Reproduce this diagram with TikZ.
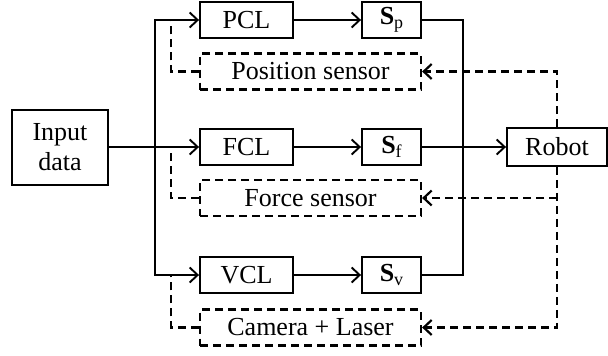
\documentclass[tikz,border=0pt]{standalone}
\usepackage{fontspec}
\setmainfont{Liberation Serif}
\usepackage{tikz}
\usetikzlibrary{positioning, arrows.meta, calc}
\newcommand{\sig}[1]{\textbf{S}\raisebox{-4pt}{\fontsize{18}{20}\selectfont #1}}
\tikzset{
  block/.style={
    draw, line width=1.9pt, minimum height=36pt, inner sep=2pt,
    font=\fontsize{26}{30}\selectfont, align=center
  },
  sensor/.style={block, line width=2.2pt, dash pattern=on 8pt off 5pt, minimum width=221pt},
  link/.style={draw, line width=1.9pt, >={Straight Barb[length=8pt,width=15pt]}},
  feedback/.style={link, line width=2.2pt, dash pattern=on 8pt off 5pt},
}

\begin{document}
\begin{tikzpicture}[x=1pt, y=-1pt]
  \useasboundingbox (0,0) rectangle (608,356);
  \node[block, minimum width=96pt, minimum height=75pt] (IN) at (60,147.5) {Input\\data};
  \node[block, minimum width=93pt] (PCL) at (246.5,20) {PCL};
  \node[block, minimum width=93pt] (FCL) at (246.5,147) {FCL};
  \node[block, minimum width=93pt] (VCL) at (246.5,275) {VCL};
  \node[block, minimum width=59pt] (SP) at (391.5,20) {\sig{p}};
  \node[block, minimum width=59pt] (SF) at (391.5,147) {\sig{f}};
  \node[block, minimum width=59pt] (SV) at (391.5,275) {\sig{v}};
  \node[sensor] (POS) at (310.5,71.5) {Position sensor};
  \node[sensor] (FRC) at (310.5,198) {Force sensor};
  \node[sensor] (CAM) at (310.5,327.5) {Camera + Laser};
  \node[block, minimum width=100pt, minimum height=38pt] (ROB) at (557,147) {Robot};
  \coordinate (split) at (155,147);
  \coordinate (merge) at (463,147);

  % forward path
  \draw[link, ->] (IN.east |- split) -- (FCL.west);
  \draw[link, ->] (split) |- (PCL.west);
  \draw[link, ->] (split) |- (VCL.west);
  \draw[link, ->] (PCL) -- (SP);
  \draw[link, ->] (FCL) -- (SF);
  \draw[link, ->] (VCL) -- (SV);
  \draw[link] (SP.east) -| (merge);
  \draw[link] (SV.east) -| (merge);
  \draw[link, ->] (SF.east) -- (ROB.west);

  % sensor feedback
  \draw[feedback, ->] (ROB.north) |- (POS.east);
  \draw[feedback, ->] (ROB.south) |- (CAM.east);
  \draw[feedback, ->] (ROB.south |- FRC.east) -- (FRC.east);
  \draw[feedback] (POS.west) -| ($(PCL.west)+(-28,0)$);
  \draw[feedback] (FRC.west) -| ($(FCL.west)+(-28,0)$);
  \draw[feedback] (CAM.west) -| ($(VCL.west)+(-28,0)$);
\end{tikzpicture}
\end{document}
